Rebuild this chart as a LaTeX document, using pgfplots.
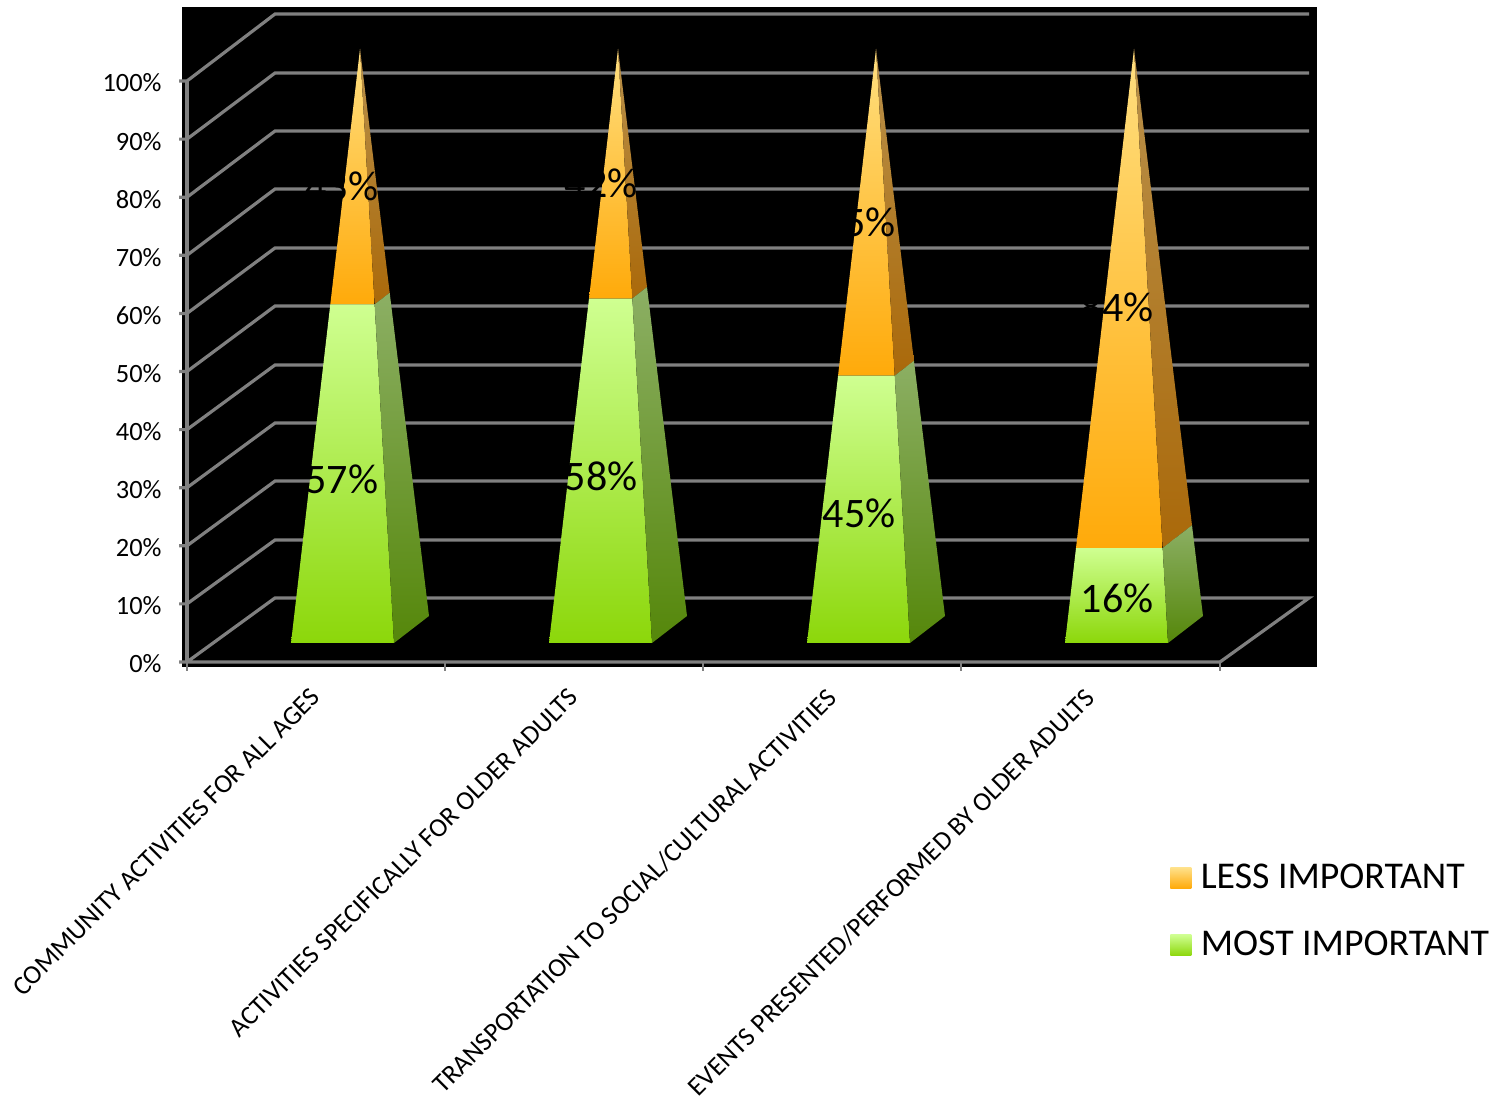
\documentclass[border=0pt]{standalone}
\usepackage{fontspec}
\setmainfont{Carlito}
\usepackage{pgfplots}
\pgfplotsset{compat=1.18}
\definecolor{gridgray}{RGB}{128,128,128}
\definecolor{grnTop}{RGB}{207,255,145}
\definecolor{grnMid}{RGB}{188,243,105}
\definecolor{grnBot}{RGB}{140,215,10}
\definecolor{grnSideTop}{RGB}{140,175,100}
\definecolor{grnSideBot}{RGB}{85,135,10}
\definecolor{orgTop}{RGB}{255,223,128}
\definecolor{orgMid}{RGB}{255,200,85}
\definecolor{orgBot}{RGB}{255,170,10}
\definecolor{orgSideTop}{RGB}{185,145,75}
\definecolor{orgSideBot}{RGB}{170,105,10}
\begin{document}
\begin{tikzpicture}
% 1px of the reference = 0.5pt
\path[use as bounding box] (0,0) rectangle (746.5pt,548.5pt);
\begin{axis}[
    at={(91pt,214.75pt)},
    anchor=south west,
    scale only axis,
    width=567.5pt,
    height=330.25pt,
    xmin=182, xmax=1317,
    ymin=-0.947, ymax=112.74,
    clip=false,
    axis background/.style={fill=black},
    axis line style={draw=none},
    tick style={draw=none},
    major tick length=0pt,
    xtick={316,574,832,1090},
    xticklabels={COMMUNITY ACTIVITIES FOR ALL AGES,
                 ACTIVITIES SPECIFICALLY FOR OLDER ADULTS,
                 TRANSPORTATION TO SOCIAL/CULTURAL ACTIVITIES,
                 EVENTS PRESENTED/PERFORMED BY OLDER ADULTS},
    % the shifts act in the rotated frame of the label
    x tick label style={rotate=45, anchor=north east, inner sep=0pt, xshift=-8.85pt, yshift=-4.2pt,
        font=\fontsize{13.3}{15}\selectfont, text=black},
    ytick={0,10,...,100},
    yticklabel={\pgfmathprintnumber{\tick}\%},
    /pgf/number format/assume math mode=true,
    y tick label style={anchor=east, inner sep=0pt, xshift=-10pt, yshift=-1pt,
        font=\fontsize{13.2}{15}\selectfont, text=black},
    gl/.style={draw=gridgray, line width=1.6pt, forget plot, mark=none},
    tk/.style={draw=gridgray, line width=1pt, forget plot, mark=none},
    legend cell align=left,
    legend style={draw=none, fill=none, at={(axis cs:1170,-34)}, anchor=north west,
        font=\fontsize{18.9}{21}\selectfont, row sep=16pt, inner sep=0pt},
]

% grid: front tick, diagonal, back wall
\addplot[gl] coordinates {(179,100) (187,100) (275,111.53) (1309,111.53)};
\addplot[gl] coordinates {(179,90) (187,90) (275,101.38) (1309,101.38)};
\addplot[gl] coordinates {(179,80) (187,80) (275,91.39) (1309,91.39)};
\addplot[gl] coordinates {(179,70) (187,70) (275,81.41) (1309,81.41)};
\addplot[gl] coordinates {(179,60) (187,60) (275,71.26) (1309,71.26)};
\addplot[gl] coordinates {(179,50) (187,50) (275,61.27) (1309,61.27)};
\addplot[gl] coordinates {(179,40) (187,40) (275,51.12) (1309,51.12)};
\addplot[gl] coordinates {(179,30) (187,30) (275,41.14) (1309,41.14)};
\addplot[gl] coordinates {(179,20) (187,20) (275,31.15) (1309,31.15)};
\addplot[gl] coordinates {(179,10) (187,10) (275,21.0) (1309,21.0)};
\addplot[gl] coordinates {(179,0) (187,0) (275,11.02) (1309,11.02) (1220,0) (187,0)};
\addplot[gl] coordinates {(187,0) (187,100)};
% category ticks
\addplot[tk] coordinates {(187,0) (187,-1.55)};
\addplot[tk] coordinates {(445,0) (445,-1.55)};
\addplot[tk] coordinates {(703,0) (703,-1.55)};
\addplot[tk] coordinates {(961,0) (961,-1.55)};
\addplot[tk] coordinates {(1220,0) (1220,-1.55)};

% pyramid 1: most 57, less 43
\addplot[forget plot, draw=none, top color=orgTop, middle color=orgMid, bottom color=orgBot] coordinates {(330.3,61.55) (374.6,61.55) (360,105.51)} -- cycle;
\addplot[forget plot, draw=none, top color=orgSideTop, bottom color=orgSideBot] coordinates {(374.6,61.55) (389.7,63.55) (360,105.51)} -- cycle;
\addplot[forget plot, draw=none, top color=grnTop, middle color=grnMid, bottom color=grnBot] coordinates {(291,3.27) (394,3.27) (374.6,61.55) (330.3,61.55)} -- cycle;
\addplot[forget plot, draw=none, top color=grnSideTop, bottom color=grnSideBot] coordinates {(394,3.27) (429,7.92) (389.7,63.55) (374.6,61.55)} -- cycle;

% pyramid 2: most 58, less 42
\addplot[forget plot, draw=none, top color=orgTop, middle color=orgMid, bottom color=orgBot] coordinates {(589.0,62.56) (632.3,62.56) (618,105.51)} -- cycle;
\addplot[forget plot, draw=none, top color=orgSideTop, bottom color=orgSideBot] coordinates {(632.3,62.56) (647.0,64.53) (618,105.51)} -- cycle;
\addplot[forget plot, draw=none, top color=grnTop, middle color=grnMid, bottom color=grnBot] coordinates {(549,3.27) (652,3.27) (632.3,62.56) (589.0,62.56)} -- cycle;
\addplot[forget plot, draw=none, top color=grnSideTop, bottom color=grnSideBot] coordinates {(652,3.27) (687,7.92) (647.0,64.53) (632.3,62.56)} -- cycle;

% pyramid 3: most 45, less 55
\addplot[forget plot, draw=none, top color=orgTop, middle color=orgMid, bottom color=orgBot] coordinates {(838.05,49.28) (894.7,49.28) (876,105.51)} -- cycle;
\addplot[forget plot, draw=none, top color=orgSideTop, bottom color=orgSideBot] coordinates {(894.7,49.28) (913.95,51.83) (876,105.51)} -- cycle;
\addplot[forget plot, draw=none, top color=grnTop, middle color=grnMid, bottom color=grnBot] coordinates {(807,3.27) (910,3.27) (894.7,49.28) (838.05,49.28)} -- cycle;
\addplot[forget plot, draw=none, top color=grnSideTop, bottom color=grnSideBot] coordinates {(910,3.27) (945,7.92) (913.95,51.83) (894.7,49.28)} -- cycle;

% pyramid 4: most 16, less 84
\addplot[forget plot, draw=none, top color=orgTop, middle color=orgMid, bottom color=orgBot] coordinates {(1076.0,19.62) (1162.6,19.62) (1134,105.51)} -- cycle;
\addplot[forget plot, draw=none, top color=orgSideTop, bottom color=orgSideBot] coordinates {(1162.6,19.62) (1192.0,23.53) (1134,105.51)} -- cycle;
\addplot[forget plot, draw=none, top color=grnTop, middle color=grnMid, bottom color=grnBot] coordinates {(1065,3.27) (1168,3.27) (1162.6,19.62) (1076.0,19.62)} -- cycle;
\addplot[forget plot, draw=none, top color=grnSideTop, bottom color=grnSideBot] coordinates {(1168,3.27) (1203,7.92) (1192.0,23.53) (1162.6,19.62)} -- cycle;

% data labels, black: they vanish where they run over the black wall
\addplot[forget plot, draw=none, mark=none, point meta=explicit,
    nodes near coords={\pgfmathprintnumber{\pgfplotspointmeta}\%},
    nodes near coords style={anchor=center, inner sep=0pt, text=black, font=\fontsize{21}{24}\selectfont}]
    table[meta=v] {
x y v
342 31.5 57
342 81.9 43
601 32.0 58
601 82.3 42
859 25.5 45
859 75.6 55
1117 11.0 16
1117 61.1 84
};

\addlegendimage{legend image code/.code={\path[top color=orgTop!90!white, bottom color=orgBot, draw=none] (0pt,-5.25pt) rectangle (10.5pt,5.25pt); \path (13pt,0pt);}}
\addlegendentry{LESS IMPORTANT}
\addlegendimage{legend image code/.code={\path[top color=grnTop, bottom color=grnBot, draw=none] (0pt,-5.25pt) rectangle (10.5pt,5.25pt); \path (13pt,0pt);}}
\addlegendentry{MOST IMPORTANT}
\end{axis}
\end{tikzpicture}
\end{document}
